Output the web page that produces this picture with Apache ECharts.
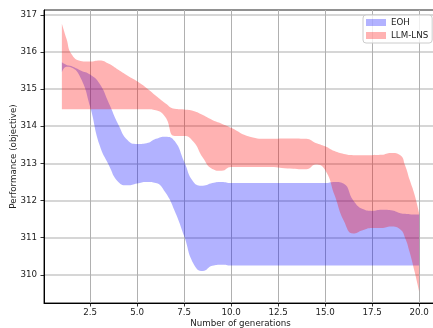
<!DOCTYPE html>
<html>
<head>
<meta charset="utf-8">
<script src="https://cdn.jsdelivr.net/npm/echarts@6/dist/echarts.min.js"></script>
<style>html,body{margin:0;padding:0;background:#fff;}#c{width:433px;height:328px;}</style>
</head>
<body>
<div id="c"></div>
<script>
const generations = [1, 1.25, 1.5, 2, 2.5, 3, 3.5, 4, 4.5, 5, 5.5, 6, 6.5, 7, 7.5, 8, 8.5, 9, 9.5, 10, 11, 12, 13, 14, 14.5, 15, 15.5, 16, 16.5, 17, 17.5, 18, 18.5, 19, 19.25, 19.5, 19.75, 20];
const eohLower = [315.45, 315.6, 315.58, 315.3, 314.53, 313.5, 312.95, 312.5, 312.41, 312.46, 312.5, 312.47, 312.22, 311.72, 311.05, 310.3, 310.1, 310.24, 310.27, 310.25, 310.25, 310.25, 310.25, 310.25, 310.25, 310.25, 310.25, 310.25, 310.25, 310.25, 310.25, 310.25, 310.25, 310.25, 310.25, 310.25, 310.25, 310.25];
const eohUpper = [315.72, 315.65, 315.62, 315.5, 315.39, 315.15, 314.62, 314.05, 313.62, 313.52, 313.54, 313.66, 313.72, 313.6, 313.05, 312.5, 312.4, 312.47, 312.5, 312.47, 312.47, 312.47, 312.47, 312.47, 312.47, 312.47, 312.5, 312.45, 312.0, 311.77, 311.72, 311.75, 311.74, 311.66, 311.64, 311.63, 311.62, 311.62];
const lnsLower = [314.46, 314.46, 314.46, 314.46, 314.46, 314.46, 314.46, 314.46, 314.46, 314.46, 314.46, 314.43, 314.25, 313.74, 313.74, 313.58, 313.15, 312.85, 312.8, 312.9, 312.9, 312.9, 312.86, 312.84, 312.97, 312.82, 312.15, 311.45, 311.11, 311.2, 311.26, 311.26, 311.3, 311.22, 311.0, 310.6, 310.1, 309.55];
const lnsUpper = [316.76, 316.35, 315.95, 315.76, 315.74, 315.77, 315.68, 315.52, 315.36, 315.21, 315.03, 314.82, 314.62, 314.47, 314.45, 314.41, 314.3, 314.17, 314.07, 313.96, 313.72, 313.66, 313.67, 313.66, 313.55, 313.46, 313.33, 313.25, 313.22, 313.22, 313.22, 313.23, 313.28, 313.22, 312.95, 312.55, 312.17, 311.65];
const xTicks = [2.5, 5, 7.5, 10, 12.5, 15, 17.5, 20];
const yTicks = [310, 311, 312, 313, 314, 315, 316, 317];
const seriesNames = ['EOH', 'LLM-LNS'];

const FONT = 'DejaVu Sans';
const FS = 8.7;
const blue = 'rgba(0,0,255,0.3)';
const red = 'rgba(255,0,0,0.3)';

// Data columns are [value, generation] with encode swapped so that the
// stacked dimension is the value (y) dimension.
function band(name, lower, upper, color, baseColor) {
  const stackId = name + '_stack';
  return [
    {
      name: name + '_base', type: 'line', stack: stackId, silent: true,
      encode: { x: 1, y: 0 },
      data: generations.map((x, i) => [lower[i], x]),
      showSymbol: false, symbol: 'none', smooth: 0.5,
      lineStyle: { width: 0, opacity: 0 }, z: 2
    },
    {
      name: name, type: 'line', stack: stackId, silent: true,
      encode: { x: 1, y: 0 },
      data: generations.map((x, i) => [upper[i] - lower[i], x]),
      showSymbol: false, symbol: 'none', smooth: 0.5,
      itemStyle: { color: color },
      lineStyle: { width: 0, opacity: 0 },
      areaStyle: { color: baseColor, opacity: 0.3 }, z: 2
    }
  ];
}

const chart = echarts.init(document.getElementById('c'), null, { renderer: 'canvas' });
chart.setOption({
  animation: false,
  backgroundColor: '#fff',
  textStyle: { fontFamily: FONT },
  grid: { left: 44, top: 10, width: 393, height: 293, outerBoundsMode: 'none', containLabel: false, show: true, borderColor: '#222', borderWidth: 1, backgroundColor: 'transparent' },
  legend: {
    orient: 'vertical', left: 363, top: 15,
    padding: [2, 4, 2, 3], itemGap: 2, itemWidth: 20, itemHeight: 7,
    icon: 'rect',
    borderColor: '#cccccc', borderWidth: 1, borderRadius: 3,
    backgroundColor: 'rgba(255,255,255,0.8)',
    textStyle: { fontFamily: FONT, fontSize: FS, color: '#222', lineHeight: 11 },
    data: [
      { name: seriesNames[0], itemStyle: { color: blue } },
      { name: seriesNames[1], itemStyle: { color: red } }
    ]
  },
  xAxis: {
    type: 'value', min: 0.05, max: 20.95,
    name: 'Number of generations', nameLocation: 'middle', nameGap: 16, nameMoveOverlap: false,
    nameTextStyle: { fontFamily: FONT, fontSize: FS, color: '#222', verticalAlign: 'top' },
    axisLine: { show: true, onZero: false, lineStyle: { color: '#000', width: 1 } },
    axisTick: { show: true, length: 3.5, customValues: xTicks, lineStyle: { color: '#000', width: 0.8 } },
    axisLabel: { customValues: xTicks, margin: 5, fontFamily: FONT, fontSize: FS, color: '#222', formatter: v => v.toFixed(1) },
    splitLine: { show: true, lineStyle: { color: '#b0b0b0', width: 1 } }
  },
  yAxis: {
    type: 'value', min: 309.24, max: 317.13,
    name: 'Performance (objective)', nameLocation: 'middle', nameGap: 26, nameMoveOverlap: false,
    nameTextStyle: { fontFamily: FONT, fontSize: FS, color: '#222' },
    axisLine: { show: true, onZero: false, lineStyle: { color: '#000', width: 1 } },
    axisTick: { show: true, length: 3.5, customValues: yTicks, lineStyle: { color: '#000', width: 0.8 } },
    axisLabel: { customValues: yTicks, margin: 7, fontFamily: FONT, fontSize: FS, color: '#222', formatter: v => String(Math.round(v)) },
    splitLine: { show: true, lineStyle: { color: '#d6d6d6', width: 2 } }
  },
  series: [].concat(
    band(seriesNames[0], eohLower, eohUpper, blue, 'rgb(0,0,255)'),
    band(seriesNames[1], lnsLower, lnsUpper, red, 'rgb(255,0,0)')
  )
});
</script>
</body>
</html>
